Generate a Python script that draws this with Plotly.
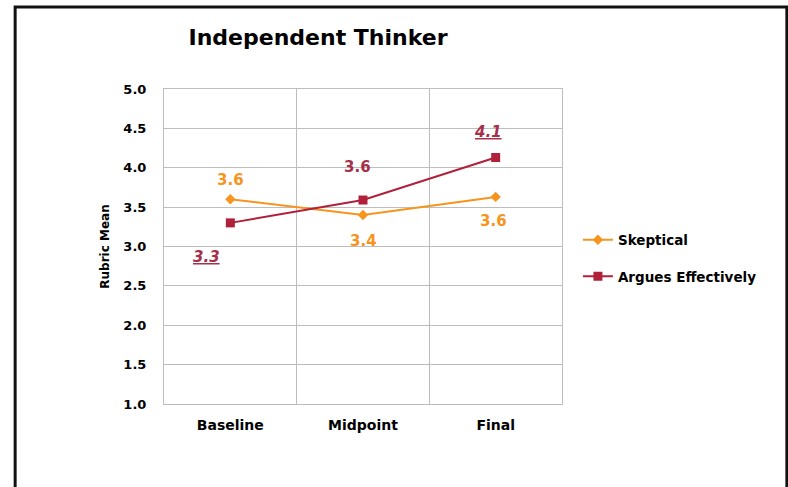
import plotly.graph_objects as go

# Data
stages = ["Baseline", "Midpoint", "Final"]
skeptical = [3.6, 3.4, 3.63]
argues = [3.3, 3.59, 4.13]
y_ticks = [1.0, 1.5, 2.0, 2.5, 3.0, 3.5, 4.0, 4.5, 5.0]

ORANGE = "#F7941E"
RED = "#B1203A"
RED_LABEL = "#A4304A"
FONT = "DejaVu Sans"

fig = go.Figure()

fig.add_trace(go.Scatter(
    x=stages, y=skeptical, name="Skeptical", mode="lines+markers",
    line=dict(color=ORANGE, width=2),
    marker=dict(symbol="diamond", size=8, color=ORANGE),
    legendgroup="a",
))
fig.add_trace(go.Scatter(
    x=stages, y=argues, name="Argues Effectively", mode="lines+markers",
    line=dict(color=RED, width=2),
    marker=dict(symbol="square", size=9, color=RED),
    legendgroup="b",
))

# Value labels: (series, index, xshift, yshift, colour, emphasised)
label_specs = [
    (skeptical, 0, 0, 19, ORANGE, False),
    (skeptical, 1, 0, -26, ORANGE, False),
    (skeptical, 2, -2, -24, ORANGE, False),
    (argues, 0, -24, -34, RED_LABEL, True),
    (argues, 1, -6, 33, RED_LABEL, False),
    (argues, 2, -8, 26, RED_LABEL, True),
]
for series, i, dx, dy, col, emph in label_specs:
    txt = f"{series[i]:.1f}"
    if emph:
        txt = f"<i><u>{txt}</u></i>"
    fig.add_annotation(
        x=stages[i], y=series[i], text=txt, showarrow=False,
        xshift=dx, yshift=dy,
        font=dict(family=FONT, size=15, color=col, weight="bold"),
    )

# Outer frame
fig.add_shape(type="rect", xref="paper", yref="paper",
              x0=-0.374, x1=1.565, y0=-0.3, y1=1.26,
              line=dict(color="#111111", width=3), layer="above")

BOLD = dict(family=FONT, color="black", weight="bold")

fig.update_layout(
    width=788, height=487,
    margin=dict(l=164, r=226, t=89, b=83),
    paper_bgcolor="white", plot_bgcolor="white",
    font=dict(family=FONT, color="black"),
    title=dict(text="Independent Thinker", x=0.387, xref="paper",
               xanchor="center", y=1 - 37 / 487, yref="container",
               yanchor="middle", font=dict(BOLD, size=22)),
    showlegend=True,
    legend=dict(x=1.04, xanchor="left", y=0.57, yanchor="top",
                traceorder="grouped", tracegroupgap=16, itemwidth=30,
                font=dict(BOLD, size=13.5),
                bgcolor="rgba(0,0,0,0)"),
    xaxis=dict(
        type="category", tickson="boundaries", showgrid=True,
        gridcolor="#BDBDBD", gridwidth=1, showline=True, linecolor="#BDBDBD",
        mirror=True, ticks="", ticklabelstandoff=8, range=[-0.5, 2.5],
        tickfont=dict(BOLD, size=14),
    ),
    yaxis=dict(
        range=[1.0, 5.0], tickvals=y_ticks, tickformat=".1f",
        showgrid=True, gridcolor="#BDBDBD", gridwidth=1,
        showline=True, linecolor="#BDBDBD", mirror=True, zeroline=False,
        ticks="", ticklabelstandoff=14,
        tickfont=dict(BOLD, size=13),
        title=dict(text="Rubric Mean", standoff=11,
                   font=dict(BOLD, size=12)),
    ),
)

fig.write_html("out.html")
